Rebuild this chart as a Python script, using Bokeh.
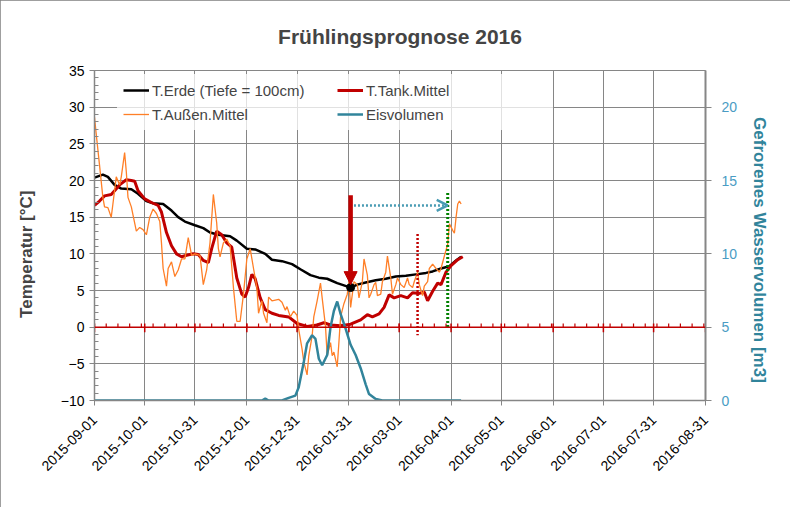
import math
import pandas as pd
from bokeh.plotting import figure
from bokeh.models import (Range1d, LinearAxis, FixedTicker, SingleIntervalTicker, Span,
                          Arrow, NormalHead, OpenHead, Legend, LegendItem)
from bokeh.embed import file_html
from bokeh.resources import INLINE

# --- data (days since 2015-09-01) ---
start = pd.Timestamp("2015-09-01")
tick_dates = ["2015-09-01", "2015-10-01", "2015-10-31", "2015-12-01", "2015-12-31",
              "2016-01-31", "2016-03-01", "2016-04-01", "2016-05-01", "2016-06-01",
              "2016-07-01", "2016-07-31", "2016-08-31"]

erde_day = [0, 5, 8, 12, 16, 22, 26, 31, 35, 41, 46, 50, 54, 60, 65, 69, 74, 81, 85, 91,
            96, 102, 106, 112, 118, 123, 129, 134, 139, 145, 149, 153, 157, 162, 168, 174,
            180, 186, 192, 198, 202, 207, 212, 216, 219]
erde_temp = [20.4, 20.8, 20.5, 19.4, 18.9, 18.8, 18.2, 17.2, 16.9, 16.8, 15.9, 15.0, 14.4,
             13.9, 13.5, 12.9, 12.6, 12.4, 11.8, 10.7, 10.6, 10.0, 9.2, 9.0, 8.6, 7.9, 7.1,
             6.75, 6.6, 6.0, 5.7, 5.4, 5.8, 6.1, 6.4, 6.6, 6.9, 7.0, 7.2, 7.4, 7.6, 8.0, 8.3,
             9.1, 9.6]

tank_day = [0, 3, 6, 10, 12, 15, 19, 22, 24, 26, 30, 34, 38, 40, 43, 46, 49, 52, 55, 59, 62,
            65, 68, 70, 73, 76, 79, 82, 85, 88, 90, 92, 94, 96, 99, 102, 106, 110, 116, 121,
            127, 133, 137, 141, 147, 153, 159, 163, 166, 170, 173, 176, 179, 183, 187, 190,
            194, 197, 199, 202, 205, 207, 210, 213, 217, 220]
tank_temp = [16.6, 17.2, 17.9, 18.1, 18.6, 19.4, 20.1, 20.0, 19.9, 18.6, 17.5, 17.0, 16.6,
             15.7, 12.9, 11.1, 10.0, 9.6, 9.8, 10.0, 9.9, 9.1, 8.8, 10.7, 13.1, 12.6, 11.5,
             10.9, 6.7, 4.5, 4.1, 5.4, 7.2, 6.6, 4.0, 2.4, 1.9, 1.6, 1.4, 0.5, 0.1, 0.3, 0.6,
             0.3, 0.2, 0.4, 1.0, 1.7, 1.4, 1.8, 2.7, 4.4, 4.0, 4.3, 4.0, 4.7, 4.6, 4.8, 3.6,
             4.9, 6.0, 5.8, 7.5, 8.4, 9.2, 9.6]

aussen_day = [0, 1, 3, 5, 6, 8, 10, 11, 13, 15, 16, 18, 19, 20, 22, 25, 27, 29, 31, 33, 35,
              37, 39, 40, 41, 43, 44, 46, 48, 50, 52, 54, 56, 58, 60, 63, 65, 67, 69, 71, 73,
              74, 75, 77, 79, 81, 83, 85, 87, 89, 91, 93, 95, 97, 98, 100, 101, 103, 104,
              106, 108, 110, 112, 114, 115, 117, 119, 121, 122, 124, 125, 127, 128, 130, 131,
              133, 135, 136, 138, 139, 141, 142, 143, 145, 146, 147, 149, 151, 152, 153, 155,
              157, 158, 160, 161, 163, 164, 165, 167, 168, 169, 171, 172, 174, 175, 177, 178,
              180, 181, 183, 185, 187, 188, 190, 191, 193, 194, 196, 197, 199, 200, 202, 204,
              206, 207, 209, 211, 212, 214, 215, 216, 217, 218, 219]
aussen_temp = [28.6, 26.4, 22.1, 17.7, 16.4, 16.3, 15.0, 16.8, 20.5, 19.4, 20.5, 23.8, 21.2,
               17.7, 16.4, 13.1, 13.6, 13.3, 12.6, 15.0, 16.1, 15.5, 14.4, 11.5, 8.0, 5.6, 8.0,
               8.9, 6.9, 7.8, 9.3, 9.3, 12.2, 9.8, 10.0, 9.8, 5.8, 7.8, 11.5, 18.1, 14.2, 10.7,
               9.6, 11.5, 12.0, 11.1, 5.4, 0.8, 0.8, 4.5, 9.3, 10.7, 8.0, 5.4, 1.9, 3.6, 1.9,
               0.6, 4.1, 3.6, 3.7, 3.8, 3.4, 2.3, 2.8, 1.4, 2.2, 1.6, -0.35, -3.0, -4.7, -6.5,
               -3.9, -1.2, 1.4, 3.6, 6.0, 4.0, 0.1, -3.9, -2.1, -3.9, -3.4, -5.4, -2.1, 1.4,
               3.2, 4.5, 6.2, 2.7, 6.2, 5.8, 4.0, 6.2, 9.3, 7.1, 4.0, 4.5, 5.8, 6.1, 4.3, 4.5,
               6.2, 7.5, 9.7, 6.7, 4.5, 5.8, 6.7, 5.8, 5.4, 6.7, 5.8, 5.4, 6.2, 7.5, 5.8, 4.3,
               5.6, 6.2, 8.0, 8.6, 8.0, 7.5, 8.0, 9.7, 11.3, 14.1, 13.2, 12.8, 15.0, 16.8,
               17.2, 16.8]

eis_day = [0, 100, 102, 104, 112, 116, 120, 122, 125, 127, 130, 132, 134, 136, 139, 141, 143,
           145, 147, 150, 153, 156, 159, 162, 164, 168, 172, 219]
eis_vol = [0, 0, 0.13, 0, 0, 0.18, 0.33, 0.9, 2.6, 3.9, 4.45, 4.2, 2.85, 2.4, 3.1, 5.0, 6.1,
           6.75, 5.9, 4.9, 3.8, 3.1, 2.2, 1.1, 0.44, 0.1, 0, 0]

# markers drawn on the chart
min_day, min_temp, arrow_top = 153, 5.4, 18.0
tank_mark_day, tank_mark_top, tank_mark_bottom = 193, 12.7, -1.1
spring_day, spring_top, spring_bottom = 211, 18.3, -0.2
shift_temp = 16.6

FONT = "Liberation Sans"
GRID = "#868686"
RED = "#C00000"
TEAL = "#31849B"

tick_days = [(pd.Timestamp(d) - start).days for d in tick_dates]

p = figure(width=790, height=507, output_backend="svg", toolbar_location=None,
           x_range=Range1d(0, tick_days[-1]), y_range=Range1d(-10, 35),
           min_border_left=94, min_border_right=85, min_border_top=68, min_border_bottom=107,
           title="Frühlingsprognose 2016")
p.extra_y_ranges = {"vol": Range1d(0, 22.5)}
p.background_fill_color = "white"
p.border_fill_color = "white"
p.outline_line_color = GRID
p.styles = {"outline": "1px solid #7f7f7f", "outline-offset": "-1px"}

p.title.align = "center"
p.title.text_font = FONT
p.title.text_font_size = "21px"
p.title.text_font_style = "bold"
p.title.standoff = 45

# x axis
p.xaxis.ticker = FixedTicker(ticks=tick_days)
p.xaxis.major_label_overrides = {d: s for d, s in zip(tick_days, tick_dates)}
p.xaxis.major_label_orientation = math.pi / 4
p.xaxis.major_label_standoff = 12
p.xaxis.major_label_text_font = FONT
p.xaxis.major_label_text_font_size = "14px"
p.xaxis.major_label_text_color = "black"
p.xaxis.axis_line_color = GRID
p.xaxis.axis_line_width = 1.5
p.xaxis.major_tick_line_color = GRID
p.xaxis.major_tick_out = 5
p.xaxis.major_tick_in = 0
p.xaxis.minor_tick_line_color = None
p.xgrid.ticker = FixedTicker(ticks=tick_days)

# left axis (trailing en spaces push the title a little below centre, as in the original)
p.yaxis.ticker = SingleIntervalTicker(interval=5, num_minor_ticks=5)
p.yaxis.axis_label = "Temperatur [°C]" + "\u2002" * 4 + "\u2009"
p.yaxis.axis_label_text_font = FONT
p.yaxis.axis_label_text_font_size = "17px"
p.yaxis.axis_label_text_font_style = "bold"
p.yaxis.axis_label_standoff = 22
p.yaxis.major_label_text_font = FONT
p.yaxis.major_label_text_font_size = "14px"
p.yaxis.major_label_text_color = "black"
p.yaxis.axis_line_color = GRID
p.yaxis.axis_line_width = 1.5
p.yaxis.major_tick_line_color = GRID
p.yaxis.major_tick_out = 5
p.yaxis.major_tick_in = 0
p.yaxis.minor_tick_line_color = GRID
p.yaxis.minor_tick_in = 4
p.yaxis.minor_tick_out = 0

for g in (p.xgrid, p.ygrid):
    g.grid_line_color = GRID
    g.grid_line_width = 1

# right axis (leading en spaces push its title a little below centre)
ax2 = LinearAxis(y_range_name="vol", ticker=FixedTicker(ticks=[0, 5, 10, 15, 20]),
                 axis_label="\u2002" * 3 + "\u2009" + "Gefrorenes Wasservolumen [m3]")
ax2.axis_label_text_font = FONT
ax2.axis_label_text_font_size = "17px"
ax2.axis_label_text_font_style = "bold"
ax2.axis_label_text_color = TEAL
ax2.axis_label_standoff = 10
ax2.major_label_text_font = FONT
ax2.major_label_text_font_size = "14px"
ax2.major_label_text_color = "#4A9CC4"
ax2.major_label_standoff = 10
ax2.axis_line_color = GRID
ax2.axis_line_width = 2
ax2.major_tick_line_color = GRID
ax2.major_tick_out = 6
ax2.major_tick_in = 0
ax2.minor_tick_line_color = None
p.add_layout(ax2, "right")

# zero line with weekly ticks
p.add_layout(Span(location=0, dimension="width", line_color=RED, line_width=1.5))
weeks = list(range(0, tick_days[-1], 7))
p.segment(x0=weeks, y0=[0] * len(weeks), x1=weeks, y1=[0.5] * len(weeks),
          line_color=RED, line_width=1.2)
p.segment(x0=tick_days, y0=[0.5] * len(tick_days), x1=tick_days, y1=[-0.7] * len(tick_days),
          line_color=RED, line_width=1.5)

# series
r_erde = p.line(erde_day, erde_temp, line_color="black", line_width=2.5)
r_tank = p.line(tank_day, tank_temp, line_color=RED, line_width=3)
r_aus = p.line(aussen_day, aussen_temp, line_color="#FF7F27", line_width=1.3)
r_eis = p.line(eis_day, eis_vol, line_color=TEAL, line_width=2.5, y_range_name="vol")

# markers
p.segment(x0=[tank_mark_day], y0=[tank_mark_top], x1=[tank_mark_day], y1=[tank_mark_bottom],
          line_color=RED, line_width=2.5, line_dash="2 2")
p.segment(x0=[spring_day], y0=[spring_top], x1=[spring_day], y1=[spring_bottom],
          line_color="#008000", line_width=3, line_dash="2 2")
p.add_layout(Arrow(end=OpenHead(size=11, line_color="#4A9CB4", line_width=2.5),
                   x_start=min_day + 2, y_start=shift_temp, x_end=spring_day, y_end=shift_temp,
                   line_color="#4A9CB4", line_width=2.5, line_dash="2 2"))
p.add_layout(Arrow(end=NormalHead(size=13, fill_color=RED, line_color=RED),
                   x_start=min_day, y_start=arrow_top, x_end=min_day, y_end=min_temp + 0.4,
                   line_color=RED, line_width=4.5))
p.scatter([min_day], [min_temp], size=8, color="black")

legend = Legend(items=[LegendItem(label="T.Erde (Tiefe = 100cm)", renderers=[r_erde]),
                       LegendItem(label="T.Außen.Mittel", renderers=[r_aus]),
                       LegendItem(label="T.Tank.Mittel", renderers=[r_tank]),
                       LegendItem(label="Eisvolumen", renderers=[r_eis])],
                ncols=2, location=(23, 270))
legend.label_text_font = FONT
legend.label_text_font_size = "15px"
legend.glyph_width = 26
legend.glyph_height = 20
legend.label_height = 20
legend.label_width = 181
legend.label_standoff = 3
legend.spacing = 4
legend.padding = 6
legend.margin = 0
legend.background_fill_color = "white"
legend.background_fill_alpha = 0.75
legend.border_line_alpha = 0
p.add_layout(legend)

open("out.html", "w").write(file_html(p, INLINE))
